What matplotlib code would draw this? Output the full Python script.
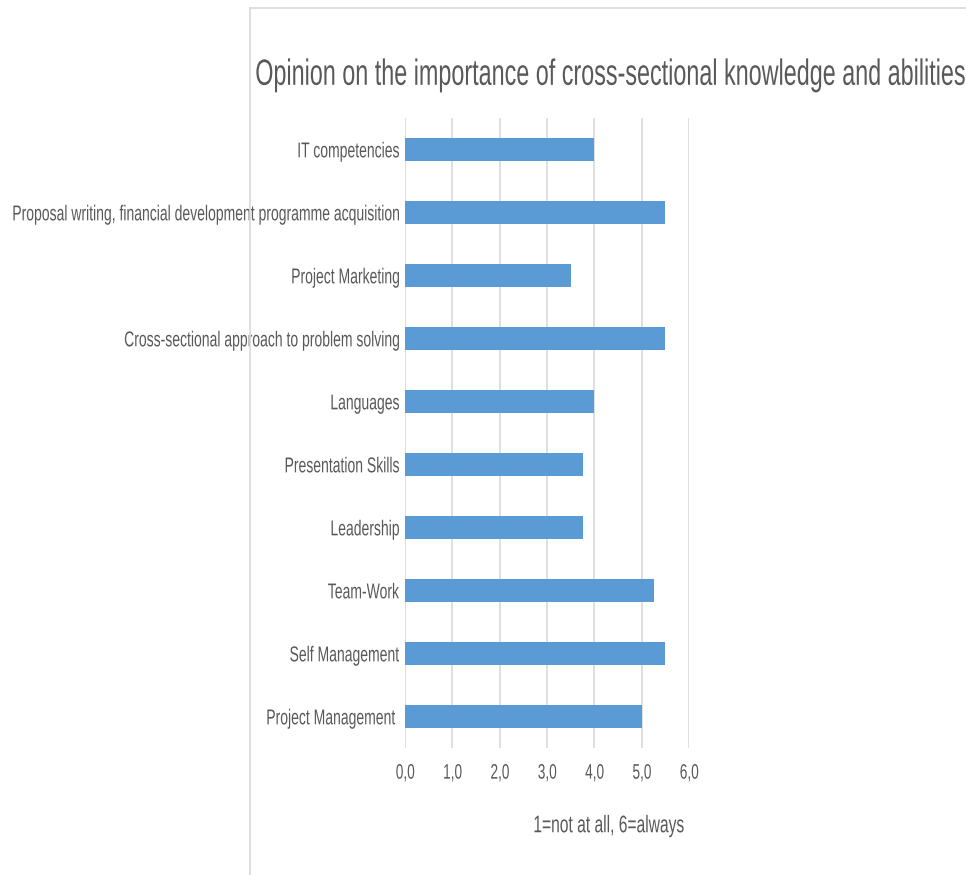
import matplotlib
matplotlib.use("Agg")
from matplotlib import pyplot as plt
from matplotlib.lines import Line2D
from matplotlib.textpath import TextPath
from matplotlib.font_manager import FontProperties
from matplotlib.patches import PathPatch
from matplotlib.transforms import Affine2D

categories = [
    "IT competencies",
    "Proposal writing, financial development programme acquisition",
    "Project Marketing",
    "Cross-sectional approach to problem solving",
    "Languages",
    "Presentation Skills",
    "Leadership",
    "Team-Work",
    "Self Management",
    "Project Management ",
]
scores = [4.0, 5.5, 3.5, 5.5, 4.0, 3.75, 3.75, 5.25, 5.5, 5.0]
ticks = [0, 1, 2, 3, 4, 5, 6]
tick_labels = ["0,0", "1,0", "2,0", "3,0", "4,0", "5,0", "6,0"]
title = "Opinion on the importance of cross-sectional knowledge and abilities"
xlabel = "1=not at all, 6=always"

text_grey = "#595959"
bar_blue = "#5B9BD5"
grid_grey = "#D9D9D9"
W, H = 966, 875
font = FontProperties(family="Liberation Sans")
SQUEEZE = 0.65


def narrow_text(fig, x, y, s, size, ha="left", sx=SQUEEZE, color=text_grey):
    """Draw condensed text at display pixel (x, y); y is the middle of the cap height."""
    body = s.rstrip()
    trail = (len(s) - len(body)) * 0.278 * size * sx
    tp = TextPath((0, 0), body, size=size, prop=font)
    w = tp.get_extents().x1 * sx
    if ha == "right":
        x0 = x - w - trail
    elif ha == "center":
        x0 = x - w / 2
    else:
        x0 = x
    base = y - 0.729 * size / 2
    tr = Affine2D().scale(sx, 1).translate(x0, base)
    patch = PathPatch(tp, transform=tr, facecolor=color, edgecolor="none", zorder=4)
    fig.add_artist(patch)


fig = plt.figure(figsize=(W / 100, H / 100), dpi=100)
ax = fig.add_axes([405 / W, 1 - 748 / H, 284 / W, 630 / H])

pos = list(range(len(categories)))
ax.barh(pos, scores, height=0.35, color=bar_blue, zorder=3)
ax.set_ylim(len(categories) - 0.5, -0.5)
ax.set_xlim(0, 6)
ax.set_yticks(pos)
ax.set_xticks(ticks)
ax.set_yticklabels([])
ax.set_xticklabels([])
ax.tick_params(length=0)
ax.grid(axis="x", color=grid_grey, linewidth=1.2, zorder=0)
for s in ax.spines.values():
    s.set_visible(False)

# category labels, right aligned just left of the axis
for i, name in enumerate(categories):
    px, py = ax.transData.transform((0, i))
    narrow_text(fig, px - 6, py, name, 21.5, ha="right")

# value axis labels
for t, lab in zip(ticks, tick_labels):
    px, py = ax.transData.transform((t, len(categories) - 0.5))
    narrow_text(fig, px, py - 23, lab, 21, ha="center")

narrow_text(fig, 610, H - 71.5, title, 36.5, ha="center", sx=0.64)
narrow_text(fig, 608.5, H - 823.5, xlabel, 24, ha="center")

# chart frame edges
fig.add_artist(Line2D([250 / W, 250 / W], [0, 1 - 8 / H], transform=fig.transFigure,
                      color=grid_grey, linewidth=1.2, zorder=5))
fig.add_artist(Line2D([250 / W, 1], [1 - 8 / H, 1 - 8 / H], transform=fig.transFigure,
                      color=grid_grey, linewidth=1.2, zorder=5))

fig.savefig("out.png", dpi=100)
